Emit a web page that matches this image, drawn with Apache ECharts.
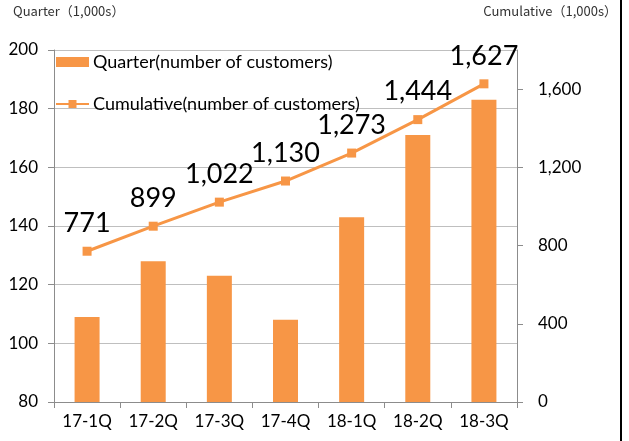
<!DOCTYPE html>
<html><head><meta charset="utf-8">
<script src="https://cdn.jsdelivr.net/npm/echarts@6/dist/echarts.min.js"></script>
<style>html,body{margin:0;padding:0;background:#fff}#c{width:629px;height:441px}</style>
</head><body><div id="c"></div>
<script>
const categories = ['17-1Q','17-2Q','17-3Q','17-4Q','18-1Q','18-2Q','18-3Q'];
const quarterValues = [109, 128, 123, 108, 143, 171, 183];
const cumulativeValues = [771, 899, 1022, 1130, 1273, 1444, 1627];
const leftTicks = [80, 100, 120, 140, 160, 180, 200];
const rightTicks = [0, 400, 800, 1200, 1600];
const seriesNames = ['Quarter(number of customers)', 'Cumulative(number of customers)'];
const axisTitles = ['Quarter（1,000s）', 'Cumulative（1,000s）'];

const ORANGE = '#F79646';
const FONT = 'Lato';
const fmt = v => Number(v).toLocaleString('en-US');
const chart = echarts.init(document.getElementById('c'), null, {renderer: 'canvas'});
chart.setOption({
  animation: false,
  backgroundColor: '#fff',
  textStyle: {fontFamily: FONT},
  grid: {left: 54, right: 112, top: 50, bottom: 39, containLabel: false},
  legend: {
    orient: 'vertical', left: 50, top: 48, itemGap: 24,
    itemWidth: 33, itemHeight: 10,
    textStyle: {fontFamily: FONT, fontSize: 18, color: '#000', padding: [0,0,0,-1]},
    data: [
      {name: seriesNames[0], icon: 'rect'},
      {name: seriesNames[1]}
    ]
  },
  graphic: [
    {type: 'text', left: 13, top: 5, style: {text: axisTitles[0], font: '13px "Noto Sans CJK JP"', fill: '#333'}},
    {type: 'text', right: 12, top: 5, style: {text: axisTitles[1], font: '13px "Noto Sans CJK JP"', fill: '#333'}},
    {type: 'rect', shape: {x: 620, y: 0, width: 2, height: 441}, style: {fill: '#000'}}
  ],
  xAxis: {
    type: 'category', data: categories, boundaryGap: true,
    axisLine: {lineStyle: {color: '#8c8c8c', width: 1}},
    axisTick: {show: true, length: 6, lineStyle: {color: '#8c8c8c'}},
    axisLabel: {fontFamily: FONT, fontSize: 17, color: '#000', margin: 11}
  },
  yAxis: [
    {
      type: 'value', min: leftTicks[0], max: leftTicks[leftTicks.length-1], interval: 20,
      axisLine: {show: true, lineStyle: {color: '#8c8c8c'}},
      axisTick: {show: true, length: 6, lineStyle: {color: '#8c8c8c'}},
      axisLabel: {fontFamily: FONT, fontSize: 17, color: '#000', margin: 16},
      splitLine: {show: true, lineStyle: {color: '#bfbfbf', width: 1}}
    },
    {
      type: 'value', min: 0, max: 1800, interval: 400, position: 'right',
      axisLine: {show: true, lineStyle: {color: '#8c8c8c'}},
      axisTick: {show: true, length: 6, lineStyle: {color: '#8c8c8c'}, customValues: rightTicks},
      axisLabel: {fontFamily: FONT, fontSize: 17, color: '#000', margin: 21, formatter: fmt, customValues: rightTicks},
      splitLine: {show: false}
    }
  ],
  series: [
    {
      name: seriesNames[0], type: 'bar', data: quarterValues, yAxisIndex: 0,
      barWidth: 25, itemStyle: {color: ORANGE}
    },
    {
      name: seriesNames[1], type: 'line', data: cumulativeValues, yAxisIndex: 1,
      symbol: 'rect', symbolSize: 9, lineStyle: {color: ORANGE, width: 3},
      itemStyle: {color: ORANGE},
      label: {show: true, position: 'top', distance: 10, fontFamily: FONT, fontSize: 27, color: '#000', formatter: p => fmt(p.value)}
    }
  ]
});
</script></body></html>
